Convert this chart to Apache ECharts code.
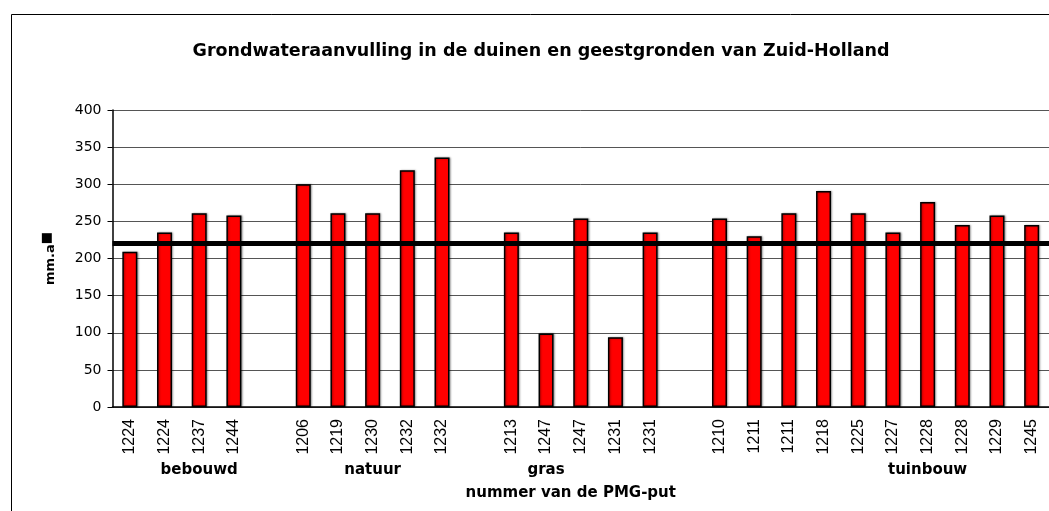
<!DOCTYPE html>
<html>
<head>
<meta charset="utf-8">
<script src="https://cdn.jsdelivr.net/npm/echarts@6/dist/echarts.min.js"></script>
<style>
  html, body { margin: 0; padding: 0; background: #fff; }
  #chart { width: 1049px; height: 511px; }
</style>
</head>
<body>
<div id="chart"></div>
<script>
// PMG-put nummers, lege categorie = ruimte tussen groepen
const categories = ['1224', '1224', '1237', '1244', '',
  '1206', '1219', '1230', '1232', '1232', '',
  '1213', '1247', '1247', '1231', '1231', '',
  '1210', '1211', '1211', '1218', '1225', '1227', '1228', '1228', '1229', '1245'];
const aanvulling = [209, 235, 261, 258, null,
  300, 261, 261, 319, 336, null,
  235, 99, 254, 94, 235, null,
  254, 230, 261, 291, 261, 235, 276, 245, 258, 245];
const groepLabels = ['', '', 'bebouwd', '', '',
  '', '', 'natuur', '', '', '',
  '', 'gras', '', '', '', '',
  '', '', '', '', '', '', 'tuinbouw', '', '', ''];
const gemiddelde = 220;
const yTicks = [0, 400, 50]; // min, max, interval

const chart = echarts.init(document.getElementById('chart'));

const option = {
  animation: false,
  backgroundColor: '#fff',
  title: {
    text: 'Grondwateraanvulling in de duinen en geestgronden van Zuid-Holland',
    left: 536,
    top: 37,
    textAlign: 'center',
    textStyle: { fontFamily: 'DejaVu Sans', fontWeight: 'bold', fontSize: 17.5, color: '#000' }
  },
  graphic: [{
    type: 'rect',
    shape: { x: 11.5, y: 14.5, width: 1100, height: 600 },
    style: { fill: 'none', stroke: '#000', lineWidth: 1 },
    silent: true
  }],
  grid: { left: 112.5, top: 110, width: 944, height: 297 },
  xAxis: [{
    type: 'category',
    data: categories,
    axisLine: { lineStyle: { color: '#000', width: 1.5 } },
    axisTick: { interval: 0, length: 6, lineStyle: { color: '#000' } },
    axisLabel: {
      interval: 0, rotate: 90, margin: 12,
      fontFamily: 'Liberation Sans', fontSize: 16, color: '#000'
    }
  }, {
    type: 'category',
    data: groepLabels,
    position: 'bottom',
    axisLine: { show: false },
    axisTick: { show: false },
    axisLabel: {
      interval: 0, margin: 56,
      fontFamily: 'DejaVu Sans', fontWeight: 'bold', fontSize: 15, color: '#000'
    },
    name: 'nummer van de PMG-put',
    nameLocation: 'middle',
    nameGap: 79,
    nameTextStyle: {
      fontFamily: 'DejaVu Sans', fontWeight: 'bold', fontSize: 15, color: '#000',
      padding: [0, 20, 0, 0]
    }
  }],
  yAxis: {
    type: 'value',
    min: yTicks[0],
    max: yTicks[1],
    interval: yTicks[2],
    axisLine: { show: true, lineStyle: { color: '#000', width: 1.5 } },
    axisTick: { show: true, length: 5, lineStyle: { color: '#000' } },
    axisLabel: { margin: 11, fontFamily: 'DejaVu Sans', fontSize: 14, color: '#000' },
    splitLine: { lineStyle: { color: '#555', width: 1 } },
    name: '{t|mm.a}{s|■}',
    nameLocation: 'middle',
    nameGap: 52,
    nameTextStyle: {
      rich: {
        t: { fontFamily: 'DejaVu Sans', fontWeight: 'bold', fontSize: 13, color: '#000', lineHeight: 20, verticalAlign: 'middle' },
        s: { fontFamily: 'DejaVu Sans', fontSize: 13, color: '#000', lineHeight: 10, verticalAlign: 'top' }
      }
    }
  },
  series: [{
    type: 'bar',
    data: aanvulling,
    barWidth: 15,
    itemStyle: {
      color: '#ff0000',
      borderColor: '#000',
      borderWidth: 1.5,
      shadowColor: 'rgba(0,0,0,0.35)',
      shadowBlur: 2,
      shadowOffsetX: 1,
      shadowOffsetY: 0
    },
    markLine: {
      silent: true,
      symbol: 'none',
      label: { show: false },
      lineStyle: { color: '#000', width: 5, type: 'solid' },
      data: [{ yAxis: gemiddelde }]
    }
  }]
};

chart.setOption(option);
</script>
</body>
</html>
